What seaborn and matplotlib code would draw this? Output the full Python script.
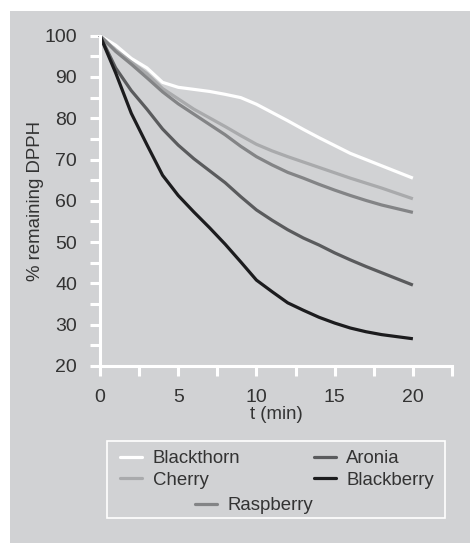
import numpy as np
import pandas as pd
import seaborn as sns
import matplotlib.pyplot as plt
from matplotlib.lines import Line2D
from matplotlib.patches import Rectangle
from matplotlib.ticker import MultipleLocator

# time points (min)
t = list(range(0, 21))

blackthorn = [100, 97.7, 94.5, 92.2, 88.7, 87.5, 87.0, 86.5, 85.8, 85.0, 83.4,
              81.4, 79.4, 77.3, 75.3, 73.4, 71.5, 70.0, 68.5, 67.0, 65.5]
cherry = [100, 96.5, 93.6, 90.8, 87.2, 84.7, 82.2, 80.1, 78.0, 75.8, 73.7,
          72.1, 70.7, 69.4, 68.1, 66.8, 65.5, 64.3, 63.1, 61.8, 60.5]
raspberry = [100, 96.2, 93.1, 89.8, 86.4, 83.5, 81.0, 78.5, 76.0, 73.2, 70.7,
             68.7, 66.9, 65.5, 64.0, 62.6, 61.3, 60.1, 59.0, 58.1, 57.2]
aronia = [100, 92.2, 86.7, 82.2, 77.4, 73.5, 70.2, 67.3, 64.4, 61.0, 57.8,
          55.3, 53.0, 51.0, 49.3, 47.4, 45.7, 44.1, 42.6, 41.1, 39.6]
blackberry = [100, 91.0, 81.2, 73.6, 66.2, 61.3, 57.3, 53.5, 49.5, 45.2, 40.8,
              38.0, 35.3, 33.5, 31.8, 30.4, 29.2, 28.3, 27.6, 27.1, 26.6]

fruits = ['Blackthorn', 'Cherry', 'Raspberry', 'Aronia', 'Blackberry']
colors = {'Blackthorn': '#ffffff', 'Cherry': '#a9aaac', 'Raspberry': '#838486',
          'Aronia': '#5a5b5d', 'Blackberry': '#1c1c1e'}

series = [blackthorn, cherry, raspberry, aronia, blackberry]
df = pd.concat([pd.DataFrame({'t': t, 'value': v, 'fruit': f})
                for f, v in zip(fruits, series)])

bg = '#d1d2d4'
txt = '#333333'

sns.set_theme(style='white')
plt.rcParams['font.family'] = ['Liberation Sans', 'DejaVu Sans']

W, H = 470, 543
fig = plt.figure(figsize=(W / 100, H / 100), dpi=100)
fig.patch.set_facecolor('white')
fig.patches.append(Rectangle((10 / W, 0), 1, 1 - 11 / H, transform=fig.transFigure,
                             facecolor=bg, edgecolor='none', zorder=-10))

ax = fig.add_axes([100 / W, 177 / H, 352 / W, 330.3 / H])
ax.set_facecolor(bg)

sns.lineplot(data=df, x='t', y='value', hue='fruit', hue_order=fruits,
             palette=colors, linewidth=2.3, legend=False, ax=ax)
for ln in ax.lines:
    ln.set_clip_on(False)
    ln.set_solid_capstyle('butt')
    ln.set_solid_joinstyle('round')

ax.set_xlim(0, 22.5)
ax.set_ylim(20, 100)
ax.xaxis.set_major_locator(MultipleLocator(5))
ax.xaxis.set_minor_locator(MultipleLocator(2.5))
ax.yaxis.set_major_locator(MultipleLocator(10))
ax.yaxis.set_minor_locator(MultipleLocator(5))
ax.set_xticks([0, 5, 10, 15, 20])

for s in ['top', 'right']:
    ax.spines[s].set_visible(False)
for s in ['left', 'bottom']:
    ax.spines[s].set_color('white')
    ax.spines[s].set_linewidth(2.2)

ax.tick_params(axis='both', which='both', direction='out', color='white',
               width=2.2, labelsize=14, labelcolor=txt)
ax.tick_params(axis='y', which='both', length=7.2, pad=9.4)
ax.tick_params(axis='x', which='both', length=7, pad=9.5)
ax.tick_params(which='both', left=True, bottom=True)

ax.set_xlabel('t (min)', fontsize=13.4, color=txt, labelpad=0)
ax.set_ylabel('% remaining DPPH', fontsize=13.4, color=txt)
ax.yaxis.set_label_coords(-0.158, 0.5)

# legend
fig.patches.append(Rectangle((107 / W, 1 - 518 / H), 338 / W, 77 / H,
                             transform=fig.transFigure, facecolor='none',
                             edgecolor='white', linewidth=1.2))

def handle(name):
    return Line2D([], [], color=colors[name], linewidth=2.3)

order = ['Blackthorn', 'Cherry', 'Aronia', 'Blackberry']
leg_kw = dict(frameon=False, borderpad=0, borderaxespad=0, handlelength=1.2,
              handletextpad=0.55, labelspacing=0.24, fontsize=13.4,
              labelcolor=txt, loc='upper left')
fig.legend([handle(n) for n in order], order, ncol=2, columnspacing=3.95,
           bbox_to_anchor=(120 / W, 1 - 450 / H), **leg_kw)
fig.legend([handle('Raspberry')], ['Raspberry'],
           bbox_to_anchor=(195 / W, 1 - 497 / H), **leg_kw)

fig.savefig('out.png', dpi=100, facecolor='white')
